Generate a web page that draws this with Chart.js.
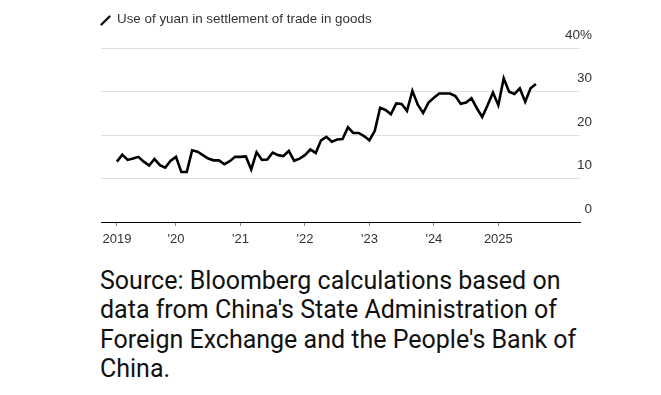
<!DOCTYPE html>
<html>
<head>
<meta charset="utf-8">
<script src="https://cdn.jsdelivr.net/npm/chart.js@4/dist/chart.umd.min.js"></script>
<style>
    html, body { margin: 0; padding: 0; background: #fff; }
    #wrap { position: relative; width: 661px; height: 395px; overflow: hidden; }
    #chart-box { position: absolute; left: 0; top: 0; width: 661px; height: 260px; }
    #title {
        position: absolute; left: 100px; top: 10px;
        font: 13.4px "Liberation Sans", Arial, sans-serif; color: #333;
        white-space: nowrap; line-height: 18px;
    }
    #title svg { vertical-align: -3px; margin-right: 6px; }
    #source {
        position: absolute; left: 100px; top: 266px; width: 540px;
        font: 25px Roboto, sans-serif; line-height: 29.4px; color: #111;
        white-space: nowrap;
    }
</style>
</head>
<body>
<div id="wrap">
    <div id="chart-box"><canvas id="yuan-chart" width="661" height="260"></canvas></div>
    <div id="title"><svg width="11" height="11" viewBox="0 0 11 11"><line x1="1.5" y1="9.5" x2="9.5" y2="1.5" stroke="#111" stroke-width="2.4" stroke-linecap="round"/></svg>Use of yuan in settlement of trade in goods</div>
    <div id="source">Source: Bloomberg calculations based on<br>data from China's State Administration of<br>Foreign Exchange and the People's Bank of<br>China.</div>
</div>
<script>
// Monthly share of yuan in goods trade settlement (%), Feb 2019 onwards
const firstMonth = '2019-02';
const share2019 = [13.9, 15.5, 14.3, 14.6, 15.0, 13.9, 13.0, 14.5, 13.1, 12.5, 14.1];
const share2020 = [15.0, 11.5, 11.5, 16.5, 16.2, 15.4, 14.6, 14.2, 14.2, 13.3, 14.0, 15.0];
const share2021 = [15.0, 15.1, 12.1, 16.1, 14.3, 14.4, 16.0, 15.4, 15.2, 16.4, 14.1, 14.6];
const share2022 = [15.4, 16.7, 15.9, 18.8, 19.6, 18.5, 19.0, 19.1, 21.8, 20.5, 20.5, 19.8];
const share2023 = [18.8, 21.0, 26.3, 25.8, 24.8, 27.3, 27.2, 25.6, 30.2, 27.0, 25.1, 27.5];
const share2024 = [28.6, 29.6, 29.6, 29.6, 29.0, 27.2, 27.5, 28.5, 26.2, 24.2, 26.9, 29.8];
const share2025 = [26.9, 33.1, 30.0, 29.5, 30.8, 27.7, 30.8, 31.8];

// Axis ticks
const xTickMonths = ['2019-02', '2020-01', '2021-01', '2022-01', '2023-01', '2024-01', '2025-01'];
const xTickLabels = ['2019', "'20", "'21", "'22", "'23", "'24", '2025'];
const yTickValues = [0, 10, 20, 30, 40];

// months elapsed since firstMonth
function monthIndex(ym) {
    const [y0, m0] = firstMonth.split('-').map(Number);
    const [y, m] = ym.split('-').map(Number);
    return (y - y0) * 12 + (m - m0);
}

function buildPoints() {
    const values = [].concat(share2019, share2020, share2021, share2022, share2023, share2024, share2025);
    return values.map((v, i) => ({ x: i, y: v }));
}

// y labels sit above their gridlines, right aligned past the plot
const yLabelPlugin = {
    id: 'yLabels',
    afterDraw(chart) {
        const ctx = chart.ctx;
        const yAxis = chart.scales.y;
        ctx.save();
        ctx.font = '13.5px "Liberation Sans", Arial, sans-serif';
        ctx.fillStyle = '#333';
        ctx.textAlign = 'right';
        ctx.textBaseline = 'middle';
        yTickValues.forEach(v => {
            const text = v === 40 ? v + '%' : String(v);
            ctx.fillText(text, chart.chartArea.right + 12, yAxis.getPixelForValue(v) - 13);
        });
        ctx.restore();
    }
};

function createChart() {
    const ctx = document.getElementById('yuan-chart');
    const tickPositions = xTickMonths.map(monthIndex);

    new Chart(ctx, {
        type: 'line',
        data: {
            datasets: [{
                label: 'Use of yuan in settlement of trade in goods',
                data: buildPoints(),
                borderColor: '#000',
                borderWidth: 2.6,
                borderJoinStyle: 'miter',
                pointRadius: 0,
                tension: 0,
                fill: false
            }]
        },
        options: {
            responsive: false,
            animation: false,
            events: [],
            layout: { padding: { left: 101, right: 81, top: 48.3, bottom: 0 } },
            plugins: { legend: { display: false }, tooltip: { enabled: false } },
            scales: {
                x: {
                    type: 'linear',
                    min: -2.96,
                    max: 86.2,
                    afterFit: scale => { scale.height = 38; },
                    afterBuildTicks: scale => {
                        scale.ticks = tickPositions.map(v => ({ value: v }));
                    },
                    grid: {
                        drawOnChartArea: false,
                        drawTicks: true,
                        tickLength: 4,
                        color: '#888'
                    },
                    border: { display: true, color: '#000', width: 1 },
                    ticks: {
                        autoSkip: false,
                        maxRotation: 0,
                        padding: 6,
                        color: '#333',
                        font: { family: '"Liberation Sans", Arial, sans-serif', size: 13 },
                        callback: (value, index) => xTickLabels[index]
                    }
                },
                y: {
                    position: 'right',
                    min: 0,
                    max: 40,
                    afterFit: scale => { scale.width = 0; },
                    afterBuildTicks: scale => {
                        scale.ticks = yTickValues.map(v => ({ value: v }));
                    },
                    grid: { color: '#e0e0e0', lineWidth: 1, drawTicks: false },
                    border: { display: false },
                    ticks: { display: false }
                }
            }
        },
        plugins: [yLabelPlugin]
    });
}

createChart();
</script>
</body>
</html>
